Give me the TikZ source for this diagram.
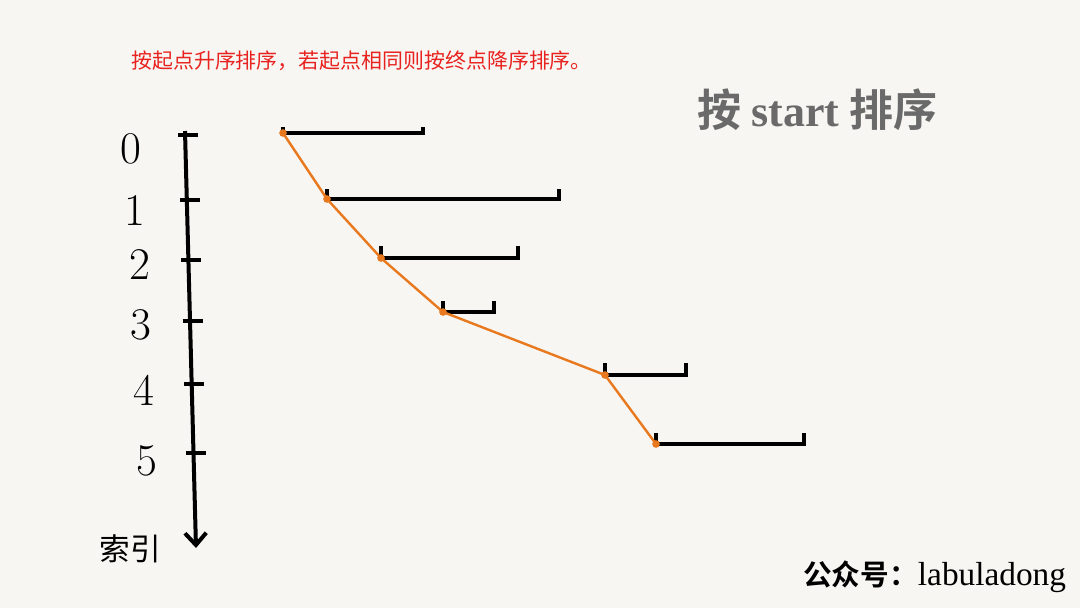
\documentclass[tikz,border=0pt]{standalone}
\usepackage{fontspec}
\setmainfont{Latin Modern Roman}
\newfontfamily\cjk{Noto Sans CJK SC}
\newfontfamily\cjkb{Noto Sans CJK SC Bold}
\newfontfamily\serifb{Liberation Serif}
\usetikzlibrary{arrows.meta}
\definecolor{bg}{HTML}{F7F6F3}
\definecolor{org}{HTML}{E8791E}
\definecolor{redtxt}{HTML}{E8231F}
\definecolor{graytxt}{HTML}{6A6A6A}
\tikzset{
  axisline/.style={line width=3pt, black},
  tickline/.style={line width=2.6pt, black},
  seg/.style={line width=2.4pt, black},
  path/.style={line width=1.8pt, org},
  pt/.style={circle, fill=org, inner sep=0pt, minimum size=5pt},
  digit/.style={font=\fontsize{34}{34}\selectfont, inner sep=0pt},
}
\begin{document}
\begin{tikzpicture}[x=0.75pt, y=-0.75pt]
\fill[bg] (0,0) rectangle (1080,608);
\useasboundingbox (0,0) rectangle (1080,608);
% texts
\node[anchor=west, text=redtxt, font=\cjk\fontsize{15.7}{15.7}\selectfont, inner sep=0pt] (note) at (131,61) {按起点升序排序，若起点相同则按终点降序排序。};
\node[anchor=west, text=graytxt, inner sep=0pt] (title) at (697,110) {\cjkb\fontsize{33}{33}\selectfont 按 {\serifb\bfseries start} 排序};
\node[anchor=west, inner sep=0pt] (footer) at (803,577) {\cjkb\fontsize{21.5}{21.5}\selectfont 公众号：{\serifb\fontsize{25}{25}\selectfont labuladong}};
% axis
\coordinate (atop) at (185,131);
\coordinate (abot) at (196,548);
\draw[axisline, -{Straight Barb[length=9pt, width=16pt, line width=3pt]}] (atop) -- (abot);
\node[anchor=center, font=\cjk\fontsize{23}{23}\selectfont, inner sep=0pt] (idx) at (130,549) {索引};
% ticks
\foreach \y/\dx in {135/0, 200/1.5, 260/3, 321/4.5, 384/6, 453/8}{
  \draw[tickline] (178+\dx,\y) -- (198+\dx,\y);
}
\node[digit] (d0) at (131,149) {0};
\node[digit] (d1) at (135,211) {1};
\node[digit] (d2) at (140,265) {2};
\node[digit] (d3) at (141,325) {3};
\node[digit] (d4) at (144,390) {4};
\node[digit] (d5) at (147,461) {5};
% intervals
\foreach \n/\xa/\xb/\yy/\yt in {0/283/423/133/127, 1/327/559/199/189, 2/381/518/258/246, 3/443/494/312/301, 4/605/686/375/363, 5/656/804/444/433}{
  \draw[seg] (\xa,\yt) -- (\xa,\yy) -- (\xb,\yy) -- (\xb,\yt);
  \node[pt] (p\n) at (\xa,\yy) {};
}
\draw[path] (p0.center) -- (p1.center) -- (p2.center) -- (p3.center) -- (p4.center) -- (p5.center);
\foreach \n in {0,...,5}{ \fill[org] (p\n) circle (3.8); }
\end{tikzpicture}
\end{document}
